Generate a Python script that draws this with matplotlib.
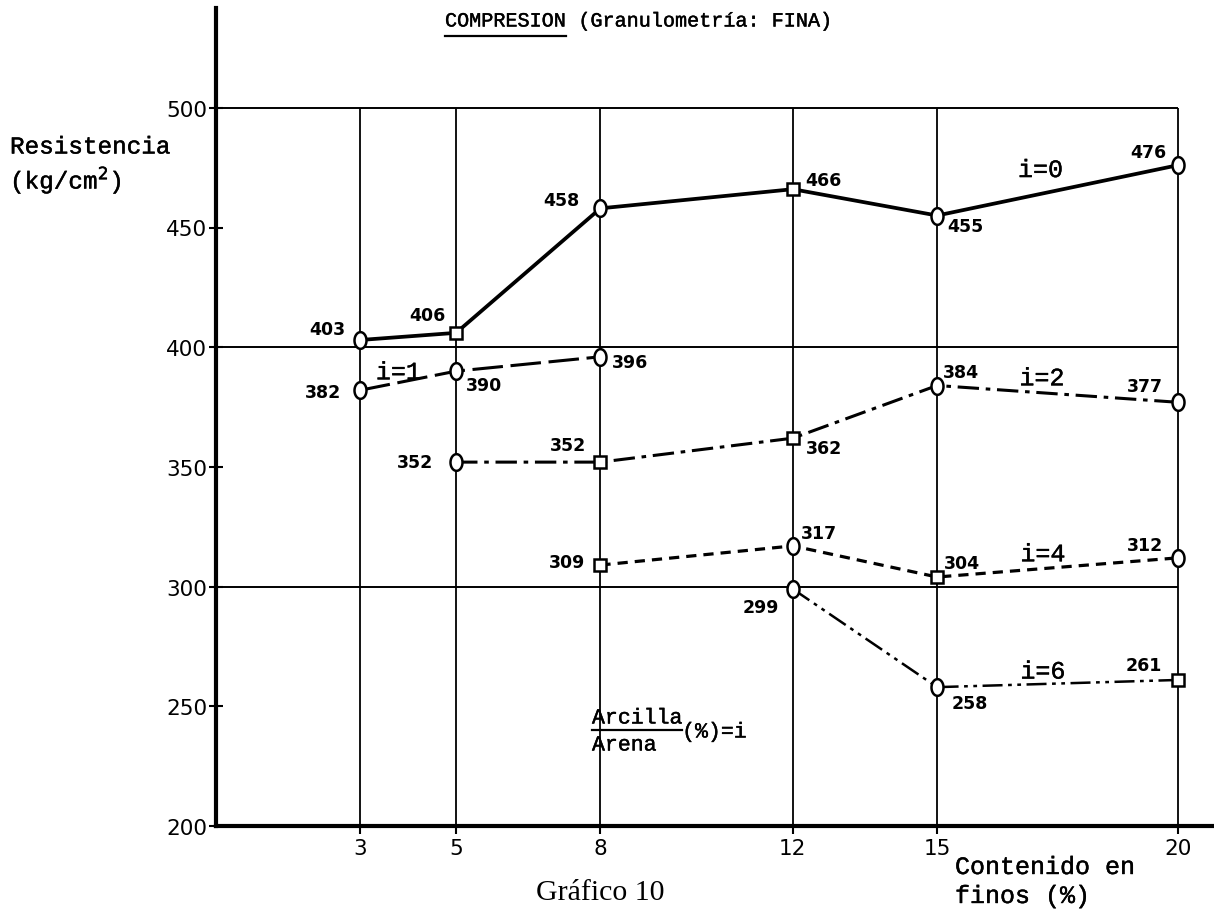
import numpy as np
import matplotlib
matplotlib.use("Agg")
import matplotlib.pyplot as plt
from matplotlib.path import Path
from matplotlib.lines import Line2D
import matplotlib.patheffects as pe

# ---------------- data ----------------
fines_ticks = [3, 5, 8, 12, 15, 20]
y_ticks = [200, 250, 300, 350, 400, 450, 500]
grid_y = [300, 400, 500]

x_i0 = [3, 5, 8, 12, 15, 20]
y_i0 = [403, 406, 458, 466, 455, 476]
m_i0 = ['o', 's', 'o', 's', 'o', 'o']

x_i1 = [3, 5, 8]
y_i1 = [382, 390, 396]
m_i1 = ['o', 'o', 'o']

x_i2 = [5, 8, 12, 15, 20]
y_i2 = [352, 352, 362, 384, 377]
m_i2 = ['o', 's', 's', 'o', 'o']

x_i4 = [8, 12, 15, 20]
y_i4 = [309, 317, 304, 312]
m_i4 = ['s', 'o', 's', 'o']

x_i6 = [12, 15, 20]
y_i6 = [299, 258, 261]
m_i6 = ['o', 'o', 's']

series_names = ['i=0', 'i=1', 'i=2', 'i=4', 'i=6']

# ---------------- styling (not data) ----------------
styles = {
    'i=0': dict(ls='-', lw=2.7),
    'i=1': dict(ls=(0, (10, 2.5)), lw=2.2),
    'i=2': dict(ls=(0, (7, 2.2, 1.5, 2.2)), lw=2.2),
    'i=4': dict(ls=(0, (3.2, 2.2)), lw=2.3),
    'i=6': dict(ls=(0, (8, 2.2, 1.5, 2.2, 1.5, 2.2)), lw=1.8),
}
# label offsets in pixels (dx, dy) per point
label_offsets = {
    'i=0': [(-33, 11), (-29, 18), (-39, 8), (31, 9), (28, -10), (-29, 13)],
    'i=1': [(-37, -2), (28, -14), (30, -5)],
    'i=2': [(-41, 0), (-32, 17), (31, -10), (24, 14), (-33, 16)],
    'i=4': [(-33, 3), (26, 13), (25, 14), (-33, 13)],
    'i=6': [(-32, -18), (33, -16), (-34, 15)],
}
series_label_pos = {
    'i=0': (17.15, 474),
    'i=1': (3.8, 389.5),
    'i=2': (17.18, 387),
    'i=4': (17.2, 313.5),
    'i=6': (17.2, 264.5),
}

W, H = 1214, 912
fig = plt.figure(figsize=(W / 100, H / 100), dpi=100)
fig.patch.set_facecolor('white')

def fx(px):
    return px / W

def fy(py):
    return 1 - py / H

thick = [pe.withStroke(linewidth=0.3, foreground='black')]

left_px, bottom_px, top_px = 215.6, 827, 9
ax = fig.add_axes([fx(left_px), fy(bottom_px), 1 - fx(left_px), fy(top_px) - fy(bottom_px)])
ax.set_xlim(0, (W - left_px) / 48.1)
ax.set_ylim(200, 200 + (bottom_px - top_px) / 2.394)

for s in ['top', 'right']:
    ax.spines[s].set_visible(False)
ax.spines['left'].set_linewidth(3.0)
ax.spines['bottom'].set_linewidth(3.0)

# grid
ax.vlines(fines_ticks, 200, 500, colors='black', lw=1.3, zorder=1)
ax.hlines(grid_y, 0, max(fines_ticks), colors='black', lw=1.4, zorder=1)

ax.set_xticks(fines_ticks)
ax.set_xticklabels([str(v) for v in fines_ticks])
ax.set_yticks(y_ticks)
ax.set_yticklabels([str(v) for v in y_ticks])
ax.tick_params(axis='y', direction='inout', length=10, width=1.5, pad=1, labelsize=15.5)
ax.tick_params(axis='x', direction='out', length=6, width=1.5, pad=3, labelsize=15.5)

# ellipse marker (taller than wide)
th = np.linspace(0, 2 * np.pi, 64)
ell = Path(np.column_stack([0.72 * np.cos(th), np.sin(th)]), closed=True)

series = {
    'i=0': (x_i0, y_i0, m_i0),
    'i=1': (x_i1, y_i1, m_i1),
    'i=2': (x_i2, y_i2, m_i2),
    'i=4': (x_i4, y_i4, m_i4),
    'i=6': (x_i6, y_i6, m_i6),
}

lab_font = dict(fontsize=12.5, fontweight='bold', family='DejaVu Sans')
mono = 'Liberation Mono'

for name in series_names:
    xs, ys, ms = series[name]
    st = styles[name]
    ax.plot(xs, ys, color='black', linestyle=st['ls'], lw=st['lw'], zorder=3,
            solid_capstyle='butt', dash_capstyle='butt')
    for x, y, m, off in zip(xs, ys, ms, label_offsets[name]):
        if m == 'o':
            ax.plot([x], [y], marker=ell, ms=12, mfc='white', mec='black', mew=1.8, zorder=4)
        else:
            ax.plot([x], [y], marker='s', ms=8.5, mfc='white', mec='black', mew=1.8, zorder=4)
        ax.annotate(str(y), (x, y), xytext=off, textcoords='offset pixels',
                    ha='center', va='center', **lab_font)
    lx, ly = series_label_pos[name]
    ax.text(lx, ly, name, ha='center', va='center', fontsize=18, family=mono, path_effects=thick)

# titles / labels
t1 = fig.text(fx(445), fy(22), 'COMPRESION', ha='left', va='center', fontsize=14.5,
              family=mono, path_effects=thick)
fig.canvas.draw()
r = fig.canvas.get_renderer()
bb = t1.get_window_extent(r)
fig.text(bb.x1 / W, fy(22), ' (Granulometría: FINA)', ha='left', va='center', fontsize=14.5,
         family=mono, path_effects=thick)
fig.add_artist(Line2D([bb.x0 / W, bb.x1 / W], [fy(37), fy(37)], color='black', lw=1.6))

fig.text(fx(10), fy(148), 'Resistencia', ha='left', va='center', fontsize=17.5, family=mono, path_effects=thick)
fig.text(fx(10), fy(181), '(kg/cm$^2$)', ha='left', va='center', fontsize=17.5, family=mono, path_effects=thick)

# fraction annotation
ta = fig.text(fx(592), fy(719), 'Arcilla', ha='left', va='center', fontsize=15.5, family=mono, path_effects=thick)
fig.text(fx(592), fy(746), 'Arena', ha='left', va='center', fontsize=15.5, family=mono, path_effects=thick)
fig.canvas.draw()
bba = ta.get_window_extent(fig.canvas.get_renderer())
fig.add_artist(Line2D([bba.x0 / W, bba.x1 / W], [fy(731), fy(731)], color='black', lw=1.6))
fig.text(bba.x1 / W, fy(733), '(%)=i', ha='left', va='center', fontsize=15.5, family=mono, path_effects=thick)

fig.text(fx(600), fy(893), 'Gráfico 10', ha='center', va='center', fontsize=21.5, family='Liberation Serif')
fig.text(fx(955), fy(868), 'Contenido en', ha='left', va='center', fontsize=18, family=mono, path_effects=thick)
fig.text(fx(955), fy(897), 'finos (%)', ha='left', va='center', fontsize=18, family=mono, path_effects=thick)

fig.savefig('out.png', dpi=100, facecolor='white')
